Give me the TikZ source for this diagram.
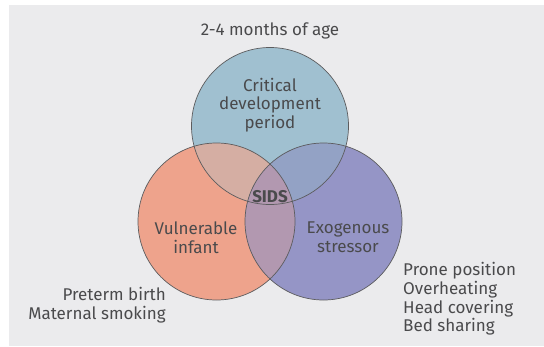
\documentclass[tikz,border=0pt]{standalone}
\usepackage{fontspec}
\setmainfont{Fira Sans}
\definecolor{panel}{HTML}{EBEBED}
\definecolor{textgrey}{HTML}{4A4A4C}
\definecolor{periodblue}{HTML}{A0C0D0}
\definecolor{infantred}{HTML}{EEA38C}
\definecolor{stressviolet}{HTML}{9595C6}
\definecolor{periodinfant}{HTML}{D5AEA3}
\definecolor{periodstress}{HTML}{93A2C5}
\definecolor{infantstress}{HTML}{B298B0}
\tikzset{
  label/.style={text=textgrey, font=\fontsize{17}{18.6}\selectfont, inner sep=0pt},
  ring/.style={draw=textgrey!90, line width=0.7pt}
}
\begin{document}
\begin{tikzpicture}[x=1pt, y=-1pt]
\useasboundingbox (0,0) rectangle (544,346);

\fill[panel] (9,5) rectangle (544,346);

\fill[periodblue] (270,126) circle (78.5);
\fill[infantred] (216.5,221.5) circle (78.5);
\fill[stressviolet] (323.5,221.5) circle (78.5);

\begin{scope}
\clip (270,126) circle (78.5);
\fill[periodinfant] (216.5,221.5) circle (78.5);
\fill[periodstress] (323.5,221.5) circle (78.5);
\end{scope}
\begin{scope}
\clip (216.5,221.5) circle (78.5);
\fill[infantstress] (323.5,221.5) circle (78.5);
\end{scope}

\node[ring, circle, minimum size=157pt, inner sep=0pt] (period) at (270,126) {};
\node[ring, circle, minimum size=157pt, inner sep=0pt] (infant) at (216.5,221.5) {};
\node[ring, circle, minimum size=157pt, inner sep=0pt] (stressor) at (323.5,221.5) {};

\node[label] (age) at (270,31) {2-4 months of age};
\node[label, align=center] (periodtext) at (270,105) {Critical\\development\\period};
\node[label, font=\fontsize{17}{18.6}\selectfont\bfseries] (sids) at (270,197) {SIDS};
\node[label, align=center] (infanttext) at (196,237.5) {Vulnerable\\infant};
\node[label, align=center] (stressortext) at (348,237.5) {Exogenous\\stressor};
\node[label, align=right, anchor=east] (infantrisk) at (166,305) {Preterm birth\\Maternal smoking};
\node[label, align=left, anchor=west] (stressorrisk) at (403,299) {Prone position\\Overheating\\Head covering\\Bed sharing};

\end{tikzpicture}
\end{document}
